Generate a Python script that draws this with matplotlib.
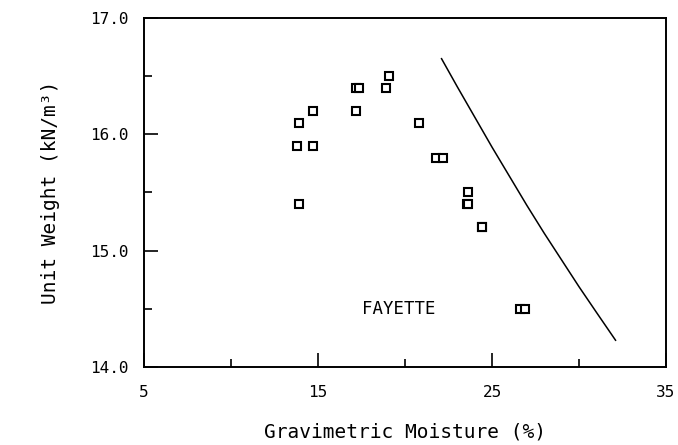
import matplotlib
matplotlib.use('Agg')
import matplotlib.pyplot as plt
from matplotlib.ticker import FixedLocator

plt.rcParams['font.family'] = ['DejaVu Sans Mono', 'DejaVu Sans']

# measured points (gravimetric moisture %, unit weight kN/m3)
moisture = [13.9, 14.7, 13.8, 14.7, 13.9, 17.2, 17.35, 17.2, 18.9, 19.1,
            20.8, 21.8, 22.2, 23.6, 23.55, 23.6, 24.4, 24.4, 26.6, 26.9]
unit_weight = [16.1, 16.2, 15.9, 15.9, 15.4, 16.4, 16.4, 16.2, 16.4, 16.5,
               16.1, 15.8, 15.8, 15.5, 15.4, 15.4, 15.2, 15.2, 14.5, 14.5]

# saturation line
line_x = [22.1, 23.0, 24.0, 25.0, 26.0, 27.0, 28.0, 29.0, 30.0, 31.0, 32.1]
line_y = [16.65, 16.41, 16.15, 15.89, 15.64, 15.39, 15.15, 14.92, 14.69,
          14.47, 14.23]

xticks = [5, 15, 25, 35]
yticks = [14.0, 15.0, 16.0, 17.0]

fig = plt.figure(figsize=(6.78, 4.45), dpi=100)
ax = fig.add_axes([0.2124, 0.1753, 0.7699, 0.7843])

ax.plot(line_x, line_y, color='black', lw=1.1)
ax.plot(moisture, unit_weight, ls='none', marker='s', ms=5.5,
        mfc='white', mec='black', mew=1.5)

ax.text(17.5, 14.5, 'FAYETTE', fontsize=12.5, va='center', ha='left')

ax.set_xlim(5, 35)
ax.set_ylim(14, 17)
ax.set_xticks(xticks)
ax.set_xticklabels([str(t) for t in xticks])
ax.set_yticks(yticks)
ax.set_yticklabels(['%.1f' % t for t in yticks])
ax.xaxis.set_minor_locator(FixedLocator([10, 20, 30]))
ax.yaxis.set_minor_locator(FixedLocator([14.5, 15.5, 16.5]))

ax.tick_params(which='both', direction='in', top=False, right=False,
               width=1.2, labelsize=11.5)
ax.tick_params(which='major', length=10)
ax.tick_params(which='minor', length=6)
ax.tick_params(axis='x', pad=13)
ax.tick_params(axis='y', pad=11)
for s in ax.spines.values():
    s.set_linewidth(1.4)

ax.set_xlabel('Gravimetric Moisture (%)', fontsize=14, labelpad=16)
ax.set_ylabel('Unit Weight (kN/m³)', fontsize=14, labelpad=22)

plt.savefig('out.png', dpi=100)
